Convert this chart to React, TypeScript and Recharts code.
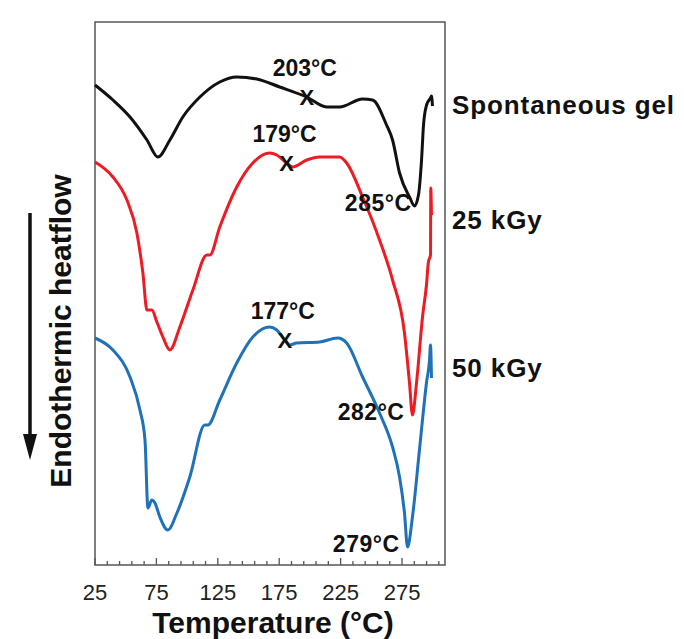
import { LineChart, Line, XAxis, YAxis, Label, ReferenceArea, ReferenceDot } from 'recharts';

// temperature (°C) vs heat flow (arbitrary units, curves offset)
const SPONT_T = [25, 39.6, 53.5, 67.3, 76.2, 86, 96.5, 110.4, 126.6, 140.4, 156.7, 175.4, 197.4, 213.6, 224.2, 242.9, 251, 262.4, 267.3, 273, 281.1, 285.2, 288.4, 290.9, 292.5, 295, 298.2, 299, 299.8];
const SPONT_V = [480, 465, 448, 425, 408, 425, 448, 468, 483, 488, 486, 478, 468, 458, 458, 466, 465, 440, 425, 392, 368, 359, 370, 405, 440, 460, 467, 469, 459];

const KGY25_T = [25, 39.6, 51, 59.1, 64, 67.3, 71.3, 75.4, 80.3, 86, 94.1, 104.7, 116.1, 118.5, 126.6, 140.4, 153.5, 167.3, 173, 181.1, 186, 197.4, 207.9, 224.2, 229.9, 242.9, 256.7, 267.3, 277, 281.1, 283.5, 286.8, 291.7, 294.9, 296.5, 298.2, 298.4, 299];
const KGY25_V = [403, 388, 365, 332, 292, 255, 255, 243, 228, 215, 238, 275, 310, 310, 338, 378, 402, 412, 410, 402, 398, 405, 408, 408, 402, 368, 325, 285, 232, 182, 150, 182, 248, 280, 303, 310, 377, 350];

const KGY50_T = [25, 39.6, 53.5, 61.6, 65.7, 68.1, 71.3, 73.8, 77.8, 84.3, 91.7, 102.2, 114.4, 116.9, 126.6, 140.4, 153.5, 167.3, 173, 179.5, 183.5, 189.2, 207.9, 222.6, 229.9, 242.9, 256.7, 267.3, 273, 277, 279.5, 283.5, 289.2, 294.9, 297.4, 298.2, 299];
const KGY50_V = [227, 215, 188, 155, 125, 57, 65, 62, 48, 35, 52, 88, 140, 140, 165, 202, 228, 238, 235, 225, 220, 222, 223, 227, 222, 188, 152, 118, 88, 52, 18, 48, 115, 182, 205, 220, 187];

const SERIES_NAMES = ['Spontaneous gel', '25 kGy', '50 kGy'];
const SERIES_LABEL_V = [460, 345, 197];

const PEAK_T = [197.4, 181, 179.5];
const PEAK_V = [468, 402, 225];
const PEAK_LABELS = ['203°C', '179°C', '177°C'];

const MIN_T = [285.2, 283.5, 279.5];
const MIN_V = [359, 150, 18];
const MIN_LABELS = ['285°C', '282°C', '279°C'];

const ALL_TICKS = [25, 35, 45, 55, 65, 75, 85, 95, 105, 115, 125, 135, 145, 155, 165, 175, 185, 195, 205, 215, 225, 235, 245, 255, 265, 275, 285, 295, 305];

const zip = (ts: number[], vs: number[]) => ts.map((t, i) => ({ t, v: vs[i] }));
const spont = zip(SPONT_T, SPONT_V);
const kgy25 = zip(KGY25_T, KGY25_V);
const kgy50 = zip(KGY50_T, KGY50_V);

const FONT = '"Liberation Sans", Arial, sans-serif';
const FRAME = '#555';
const COLORS = ['#111111', '#ec1c24', '#1f72b8'];

function TempTick(props: any) {
  const { x, y, payload } = props;
  const val = Number(payload.value);
  const major = Math.abs((val - 25) % 50) < 0.01;
  return (
    <g>
      <line x1={x} x2={x} y1={y} y2={y - (major ? 7 : 4)} stroke={FRAME} strokeWidth={1.3} />
      {major ? (
        <text x={x} y={y + 35} textAnchor="middle" fontFamily={FONT} fontSize={22} fill="#222">
          {String(val)}
        </text>
      ) : null}
    </g>
  );
}

function YTitle() {
  return (
    <g>
      <text
        x={60}
        y={331}
        transform="rotate(-90, 60, 331)"
        textAnchor="middle"
        dominantBaseline="central"
        fontFamily={FONT}
        fontSize={30}
        fontWeight="bold"
        fill="#111"
      >
        Endothermic heatflow
      </text>
      <line x1={30} x2={30} y1={213} y2={440} stroke="#111" strokeWidth={3.5} />
      <polygon points="23,434 37,434 30,460" fill="#111" />
    </g>
  );
}

const peakShape = (label: string) => (p: any) => (
  <g fontFamily={FONT} fontWeight="bold" fill="#111">
    <text x={p.cx} y={p.cy} textAnchor="middle" dominantBaseline="central" fontSize={22}>X</text>
    <text x={p.cx - 2} y={p.cy - 29} textAnchor="middle" dominantBaseline="central" fontSize={23}>{label}</text>
  </g>
);

const minShape = (label: string, dx: number) => (p: any) => (
  <text x={p.cx + dx} y={p.cy - 3} textAnchor="end" dominantBaseline="central" fontFamily={FONT} fontWeight="bold" fontSize={23} letterSpacing={0.5} fill="#111">
    {label}
  </text>
);

const nameShape = (label: string) => (p: any) => (
  <text x={p.cx + 7} y={p.cy} dominantBaseline="central" fontFamily={FONT} fontWeight="bold" fontSize={26} letterSpacing={0.9} fill="#111">
    {label}
  </text>
);

export default function App() {
  return (
    <div style={{ position: 'fixed', left: 0, top: 0, background: '#fff' }}>
      <LineChart width={684} height={639} margin={{ top: 22, right: 239, bottom: 0, left: 0 }}>
        <XAxis
          type="number"
          dataKey="t"
          domain={[25, 310]}
          ticks={ALL_TICKS}
          interval={0}
          minTickGap={0}
          height={74}
          tickSize={0}
          tickMargin={0}
          axisLine={false}
          tick={<TempTick />}
        >
          <Label
            value="Temperature (°C)"
            position="insideBottom"
            offset={6}
            dx={3}
            style={{ fontFamily: FONT, fontSize: 30, fontWeight: 'bold', fill: '#111' }}
          />
        </XAxis>
        <YAxis type="number" domain={[0, 543]} width={95} tick={false} axisLine={false} tickLine={false}>
          <Label content={<YTitle />} />
        </YAxis>
        <ReferenceArea x1={25} x2={310} y1={0} y2={543} fill="none" stroke={FRAME} strokeWidth={1.5} />
        <Line data={spont} dataKey="v" type="monotone" stroke={COLORS[0]} strokeWidth={3} dot={false} isAnimationActive={false} />
        <Line data={kgy25} dataKey="v" type="monotone" stroke={COLORS[1]} strokeWidth={3} dot={false} isAnimationActive={false} />
        <Line data={kgy50} dataKey="v" type="monotone" stroke={COLORS[2]} strokeWidth={3} dot={false} isAnimationActive={false} />
        {PEAK_T.map((t, i) => (
          <ReferenceDot key={'p' + i} x={t} y={PEAK_V[i]} r={0} shape={peakShape(PEAK_LABELS[i])} />
        ))}
        {MIN_T.map((t, i) => (
          <ReferenceDot key={'m' + i} x={t} y={MIN_V[i]} r={0} shape={minShape(MIN_LABELS[i], i === 0 ? -3 : -8)} />
        ))}
        {SERIES_NAMES.map((n, i) => (
          <ReferenceDot key={'n' + i} x={310} y={SERIES_LABEL_V[i]} r={0} shape={nameShape(n)} />
        ))}
      </LineChart>
    </div>
  );
}
